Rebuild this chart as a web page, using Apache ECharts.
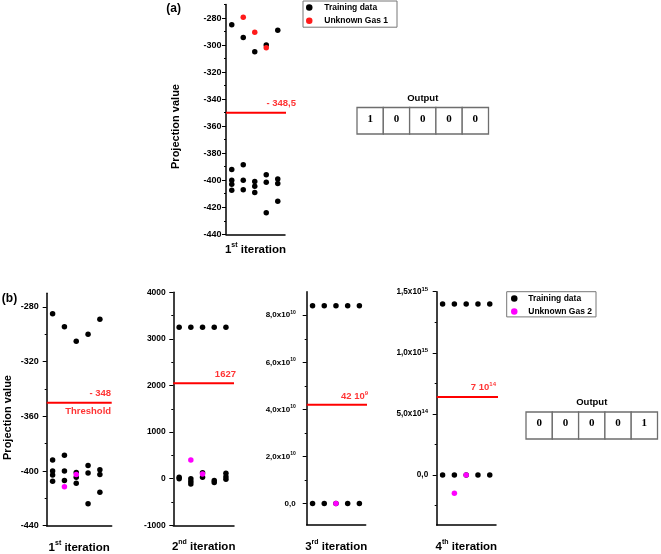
<!DOCTYPE html>
<html>
<head>
<meta charset="utf-8">
<script src="https://cdn.jsdelivr.net/npm/echarts@6/dist/echarts.min.js"></script>
<style>html,body{margin:0;padding:0;background:#fff}#c{width:661px;height:554px}</style>
</head>
<body>
<div id="c"></div>
<script>
// ---------------- data ----------------
const columns = [1, 2, 3, 4, 5];
// 1st iteration training data (same in panel a and b)
const iter1TrainTop = [-285, -294.5, -305, -300, -289];
const iter1TrainLow = [[-392, -400, -403, -407.5], [-388.5, -400, -407], [-401, -404.5, -409], [-396, -401.5, -424], [-399, -402.5, -415.5]];
const gas1Cols = [2, 3, 4];
const gas1Values = [-279.5, -290.5, -302];
const gas2Iter1Cols = [2, 3];
const gas2Iter1Values = [-411.5, -402.5];
// 2nd iteration
const iter2TrainTop = [3250, 3250, 3250, 3250, 3250];
const iter2TrainLow = [[0, 30], [0, -60, -115], [30, 130], [-40, -80], [-10, 40, 115]];
const gas2Iter2Cols = [2, 3];
const gas2Iter2Values = [400, 100];
// 3rd iteration
const iter3TrainTop = [8.4e10, 8.4e10, 8.4e10, 8.4e10, 8.4e10];
const iter3TrainLow = [[0], [0], [0], [0], [0]];
const gas2Iter3Cols = [3];
const gas2Iter3Values = [0];
// 4th iteration
const iter4TrainTop = [1.4e15, 1.4e15, 1.4e15, 1.4e15, 1.4e15];
const iter4TrainLow = [[0], [0], [0], [0], [0]];
const gas2Iter4Cols = [2, 3];
const gas2Iter4Values = [-1.5e14, 0];
// thresholds (drawn position) and their printed labels
const thresholdValues = [-350, -350, 2050, 4.2e10, 6.37e14];
const thresholdLabels = ['- 348,5', '- 348', '1627', '42 10{sup|9}', '7 10{sup|14}'];
// tick values and labels
const ticksA = [-440, -420, -400, -380, -360, -340, -320, -300, -280];
const ticksALabels = ['-440', '-420', '-400', '-380', '-360', '-340', '-320', '-300', '-280'];
const minorA = [-430, -410, -390, -370, -350, -330, -310, -290, -270];
const ticksB1 = [-440, -400, -360, -320, -280];
const ticksB1Labels = ['-440', '-400', '-360', '-320', '-280'];
const minorB1 = [-420, -380, -340, -300];
const ticksB2 = [-1000, 0, 1000, 2000, 3000, 4000];
const ticksB2Labels = ['-1000', '0', '1000', '2000', '3000', '4000'];
const minorB2 = [-500, 500, 1500, 2500, 3500];
const ticksB3 = [0, 2e10, 4e10, 6e10, 8e10];
const ticksB3Labels = ['0,0', '2,0x10{sup|10}', '4,0x10{sup|10}', '6,0x10{sup|10}', '8,0x10{sup|10}'];
const minorB3 = [1e10, 3e10, 5e10, 7e10];
const ticksB4 = [0, 5e14, 1e15, 1.5e15];
const ticksB4Labels = ['0,0', '5,0x10{sup|14}', '1,0x10{sup|15}', '1,5x10{sup|15}'];
const minorB4 = [-2.5e14, 2.5e14, 7.5e14, 1.25e15];
const iterationNames = ['1{sup|st} iteration', '1{sup|st} iteration', '2{sup|nd} iteration', '3{sup|rd} iteration', '4{sup|th} iteration'];
const outputA = [1, 0, 0, 0, 0];
const outputB = [0, 0, 0, 0, 1];

// ---------------- helpers ----------------
const FONT = '"Liberation Sans", Arial, sans-serif';
function trainData(top, low) {
  const d = [];
  columns.forEach((c, i) => { d.push([c, top[i]]); low[i].forEach(v => d.push([c, v])); });
  return d;
}
function pairData(cols, vals) { return cols.map((c, i) => [c, vals[i]]); }
function labelOf(v, ticks, labels) {
  for (let i = 0; i < ticks.length; i++) {
    if (Math.abs(v - ticks[i]) <= Math.abs(ticks[i]) * 1e-9 + 1e-6) return labels[i];
  }
  return '';
}

const panels = [
  { grid: { left: 226, top: 4.5, width: 59, height: 229.8 }, yMin: -440, yMax: -270, xMax: 5.63, lineEnd: 6.67, labX: 6.59, labDy: -9.5,
    ticks: ticksA, tickLabels: ticksALabels, minor: minorA, lblSize: 9, lblMargin: 4.5, supSize: 5, nameGap: 7,
    train: trainData(iter1TrainTop, iter1TrainLow), unk: pairData(gas1Cols, gas1Values), unkName: 'Unknown Gas 1', unkColor: '#ff1a1a' },
  { grid: { left: 46.7, top: 293.3, width: 65, height: 232.4 }, yMin: -440, yMax: -270, xMax: 6.0, lineEnd: 6.0, labX: 5.95, labDy: -9.4,
    ticks: ticksB1, tickLabels: ticksB1Labels, minor: minorB1, lblSize: 9, lblMargin: 8, supSize: 5, nameGap: 13.5,
    train: trainData(iter1TrainTop, iter1TrainLow), unk: pairData(gas2Iter1Cols, gas2Iter1Values), unkName: 'Unknown Gas 2', unkColor: '#ff00ff', extra: 'Threshold' },
  { grid: { left: 173.3, top: 292.3, width: 60.7, height: 233 }, yMin: -1000, yMax: 4000, xMax: 5.69, lineEnd: 5.69, labX: 5.86, labDy: -8.5,
    ticks: ticksB2, tickLabels: ticksB2Labels, minor: minorB2, lblSize: 8.5, lblMargin: 7.5, supSize: 5, nameGap: 13.5,
    train: trainData(iter2TrainTop, iter2TrainLow), unk: pairData(gas2Iter2Cols, gas2Iter2Values), unkName: 'Unknown Gas 2', unkColor: '#ff00ff' },
  { grid: { left: 306.7, top: 291.7, width: 59, height: 233 }, yMin: -0.9e10, yMax: 9e10, xMax: 5.54, lineEnd: 5.85, labX: 5.74, labDy: -8.6,
    ticks: ticksB3, tickLabels: ticksB3Labels, minor: minorB3, lblSize: 8, lblMargin: 11, supSize: 5, nameGap: 13.5,
    train: trainData(iter3TrainTop, iter3TrainLow), unk: pairData(gas2Iter3Cols, gas2Iter3Values), unkName: 'Unknown Gas 2', unkColor: '#ff00ff' },
  { grid: { left: 436.7, top: 291.7, width: 59.3, height: 233.3 }, yMin: -4.1e14, yMax: 1.5e15, xMax: 5.53, lineEnd: 5.72, labX: 5.53, labDy: -9.7,
    ticks: ticksB4, tickLabels: ticksB4Labels, minor: minorB4, lblSize: 8.2, lblMargin: 8.5, supSize: 6, nameGap: 13.5,
    train: trainData(iter4TrainTop, iter4TrainLow), unk: pairData(gas2Iter4Cols, gas2Iter4Values), unkName: 'Unknown Gas 2', unkColor: '#ff00ff' }
];

const grids = [], xAxes = [], yAxes = [], series = [];
panels.forEach((p, i) => {
  grids.push(Object.assign({ outerBoundsMode: 'none', containLabel: false }, p.grid));
  xAxes.push({
    type: 'value', gridIndex: i, min: 0.5, max: p.xMax,
    axisLine: { show: true, onZero: false, lineStyle: { color: '#000', width: 1.5 } },
    axisTick: { show: false }, axisLabel: { show: false }, splitLine: { show: false },
    name: iterationNames[i], nameLocation: 'middle', nameGap: p.nameGap,
    nameTextStyle: { fontSize: 11.5, fontWeight: 'bold', fontFamily: FONT, color: '#000', lineHeight: 17,
      rich: { sup: { fontSize: 7, fontWeight: 'bold', fontFamily: FONT, color: '#000', verticalAlign: 'top', lineHeight: 8 } } }
  });
  yAxes.push({
    type: 'value', gridIndex: i, min: p.yMin, max: p.yMax, position: 'left',
    axisLine: { show: true, onZero: false, lineStyle: { color: '#000', width: 1.5 } },
    axisTick: { show: true, inside: false, length: 4, lineStyle: { color: '#000', width: 1 }, customValues: p.ticks },
    axisLabel: { show: true, customValues: p.ticks, margin: p.lblMargin, fontSize: p.lblSize, fontWeight: 'bold', fontFamily: FONT, color: '#000',
      lineHeight: p.lblSize + 3,
      formatter: (v => labelOf(v, p.ticks, p.tickLabels)),
      rich: { sup: { fontSize: p.supSize, fontWeight: 'bold', fontFamily: FONT, color: '#000', verticalAlign: 'top', lineHeight: p.supSize + 1 } } },
    splitLine: { show: false }
  });
  yAxes.push({
    type: 'value', gridIndex: i, min: p.yMin, max: p.yMax, position: 'left', offset: 0,
    axisLine: { show: false }, axisLabel: { show: false }, splitLine: { show: false },
    axisTick: { show: true, inside: false, length: 2, lineStyle: { color: '#000', width: 1 }, customValues: p.minor }
  });
  series.push({ type: 'scatter', name: 'Training data', xAxisIndex: i, yAxisIndex: 2 * i, data: p.train,
    symbol: 'circle', symbolSize: 5.5, itemStyle: { color: '#000', opacity: 1 }, clip: false, silent: true, z: 3 });
  series.push({ type: 'scatter', name: p.unkName, xAxisIndex: i, yAxisIndex: 2 * i, data: p.unk,
    symbol: 'circle', symbolSize: 5.5, itemStyle: { color: p.unkColor, opacity: 1 }, clip: false, silent: true, z: 4 });
  series.push({ type: 'line', name: 'thr' + i, xAxisIndex: i, yAxisIndex: 2 * i,
    data: [[0.5, thresholdValues[i]], [p.lineEnd, thresholdValues[i]]],
    symbol: 'none', showSymbol: false, lineStyle: { color: '#ff0000', width: 2 }, clip: false, silent: true, z: 2 });
  const lblStyle = { show: true, position: 'left', distance: 0, color: '#ff0000', fontSize: 9.5, fontWeight: 'bold', fontFamily: FONT,
    lineHeight: 12, rich: { sup: { fontSize: 6, fontWeight: 'bold', fontFamily: FONT, color: '#ff0000', verticalAlign: 'top', lineHeight: 7 } } };
  series.push({ type: 'scatter', name: 'thrlbl' + i, xAxisIndex: i, yAxisIndex: 2 * i,
    data: [[p.labX, thresholdValues[i]]], symbolSize: 0, clip: false, silent: true, z: 5,
    label: Object.assign({}, lblStyle, { offset: [0, p.labDy], formatter: () => thresholdLabels[i] }) });
  if (p.extra) {
    series.push({ type: 'scatter', name: 'thrlbl2' + i, xAxisIndex: i, yAxisIndex: 2 * i,
      data: [[p.labX, thresholdValues[i]]], symbolSize: 0, clip: false, silent: true, z: 5,
      label: Object.assign({}, lblStyle, { offset: [0, 9], formatter: () => p.extra }) });
  }
});

// tables
function table(values, x0, y0, w, h) {
  const els = [];
  els.push({ type: 'text', x: x0 + w * values.length / 2, y: y0 - 9.5,
    style: { text: 'Output', align: 'center', verticalAlign: 'middle', font: 'bold 9.5px ' + FONT, fill: '#000' } });
  values.forEach((v, k) => {
    els.push({ type: 'rect', shape: { x: x0 + k * w, y: y0, width: w, height: h },
      style: { fill: '#fff', stroke: '#6e6e6e', lineWidth: 1.3 } });
    els.push({ type: 'text', x: x0 + k * w + w / 2, y: y0 + h / 2 - 2,
      style: { text: String(v), align: 'center', verticalAlign: 'middle', font: 'bold 11px "Liberation Serif", serif', fill: '#000' } });
  });
  return els;
}

const graphic = [
  { type: 'text', x: 173.7, y: 8.5, style: { text: '(a)', align: 'center', verticalAlign: 'middle', font: 'bold 12px ' + FONT, fill: '#000' } },
  { type: 'text', x: 9.5, y: 298.5, style: { text: '(b)', align: 'center', verticalAlign: 'middle', font: 'bold 12px ' + FONT, fill: '#000' } },
  { type: 'text', x: 175.5, y: 126.5, rotation: Math.PI / 2, style: { text: 'Projection value', align: 'center', verticalAlign: 'middle', font: 'bold 11px ' + FONT, fill: '#000' } },
  { type: 'text', x: 7.5, y: 417.5, rotation: Math.PI / 2, style: { text: 'Projection value', align: 'center', verticalAlign: 'middle', font: 'bold 11px ' + FONT, fill: '#000' } }
].concat(table(outputA, 357, 107.5, 26.3, 26.5)).concat(table(outputB, 526, 412, 26.3, 27));

const legendText = { fontSize: 8.5, fontWeight: 'bold', fontFamily: FONT, color: '#000' };
const option = {
  animation: false,
  backgroundColor: '#fff',
  grid: grids, xAxis: xAxes, yAxis: yAxes, series: series,
  legend: [
    { data: ['Training data', 'Unknown Gas 1'], orient: 'vertical', left: 303, top: 1, icon: 'circle',
      itemWidth: 20, itemHeight: 6.5, itemGap: 4.2, padding: [2, 9, 2, 3], borderColor: '#777', borderWidth: 1,
      textStyle: legendText, selectedMode: false },
    { data: ['Training data', 'Unknown Gas 2'], orient: 'vertical', left: 506.7, top: 291.7, icon: 'circle',
      itemWidth: 18, itemHeight: 6.5, itemGap: 3.9, padding: [2.3, 4, 1, 4.3], borderColor: '#777', borderWidth: 1,
      textStyle: legendText, selectedMode: false }
  ],
  graphic: graphic
};
const chart = echarts.init(document.getElementById('c'), null, { renderer: 'canvas' });
chart.setOption(option);
</script>
</body>
</html>
